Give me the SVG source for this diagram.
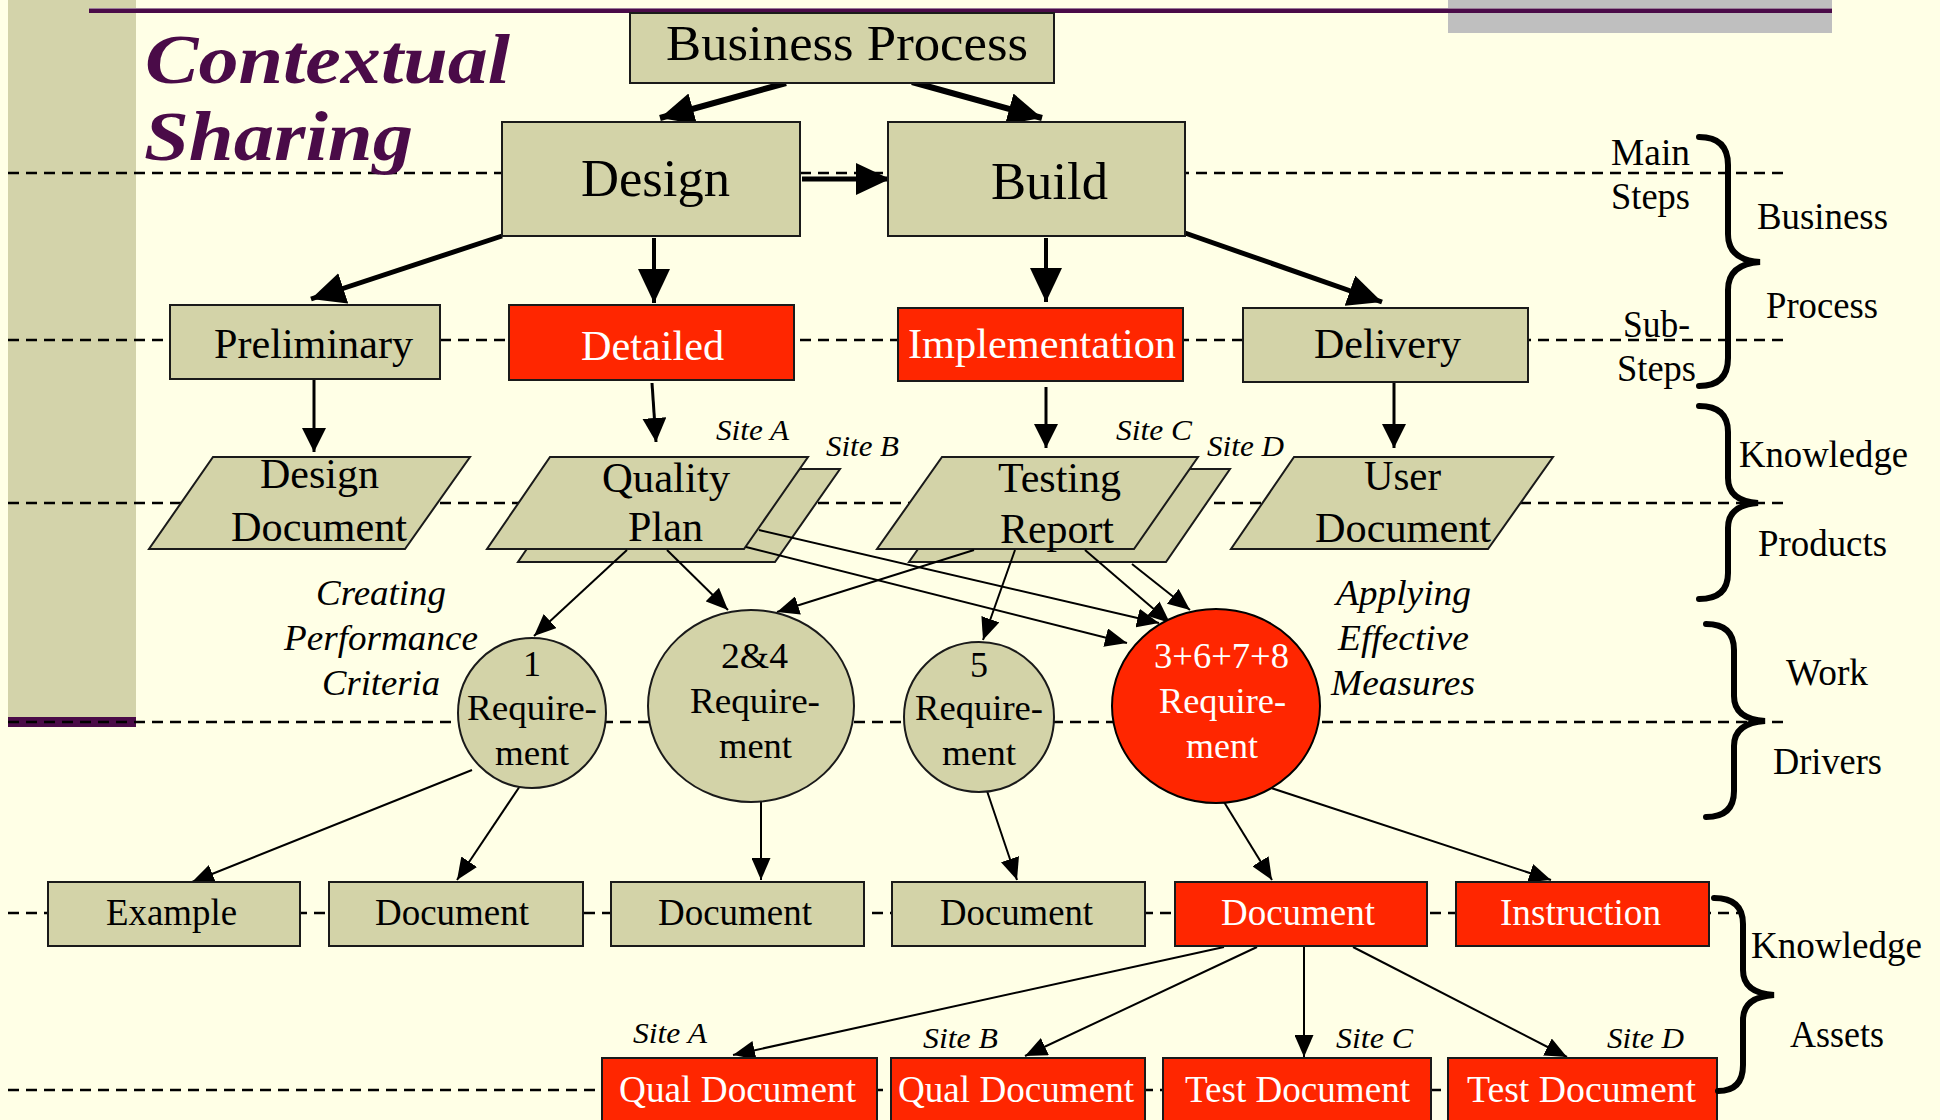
<svg xmlns="http://www.w3.org/2000/svg" width="1940" height="1120" viewBox="0 0 1940 1120">
<defs>
<style>
.t{font-family:"Liberation Serif","Times New Roman",serif;fill:#000}
.w{fill:#fff}
.it{font-style:italic}
.box{fill:#d3d3a8;stroke:#1a1a1a;stroke-width:2}
.red{fill:#ff2600;stroke:#1a1a1a;stroke-width:2}
.guide{stroke:#000;stroke-width:2.5;stroke-dasharray:11 7;fill:none}
.brace{fill:none;stroke:#000;stroke-width:6;stroke-linecap:round}
.thick{stroke:#000;fill:none;marker-end:url(#big)}
.med{stroke:#000;stroke-width:3;fill:none;marker-end:url(#med)}
.thin{stroke:#000;stroke-width:2;fill:none;marker-end:url(#small)}
</style>
<marker id="big" markerUnits="userSpaceOnUse" markerWidth="34" markerHeight="32" viewBox="0 0 34 32" refX="34" refY="16" orient="auto"><path d="M0,0 L34,16 L0,32 z" fill="#000"/></marker>
<marker id="med" markerUnits="userSpaceOnUse" markerWidth="24" markerHeight="24" viewBox="0 0 24 24" refX="24" refY="12" orient="auto"><path d="M0,0 L24,12 L0,24 z" fill="#000"/></marker>
<marker id="small" markerUnits="userSpaceOnUse" markerWidth="22" markerHeight="19" viewBox="0 0 22 19" refX="22" refY="9.5" orient="auto"><path d="M0,0 L22,9.5 L0,19 z" fill="#000"/></marker>
</defs>
<rect x="0" y="0" width="1940" height="1120" fill="#ffffe6"/>
<g id="decor">
<rect x="8" y="0" width="128" height="718" fill="#d3d3aa"/>
<rect x="8" y="717" width="128" height="10" fill="#4a0b48"/>
<rect x="1448" y="0" width="384" height="33" fill="#bfbfbf"/>
<rect x="89" y="9" width="1743" height="4" fill="#4a0b48"/>
<rect x="89" y="8" width="1743" height="1" fill="#9a7a98"/>
</g>
<g id="guides">
<line class="guide" x1="8" y1="173" x2="1788" y2="173"/>
<line class="guide" x1="8" y1="340" x2="1788" y2="340"/>
<line class="guide" x1="8" y1="503" x2="1788" y2="503"/>
<line class="guide" x1="8" y1="722" x2="1788" y2="722"/>
<line class="guide" x1="8" y1="913" x2="1740" y2="913"/>
<line class="guide" x1="8" y1="1090" x2="1716" y2="1090"/>
</g>
<g id="title" class="t" style="font-weight:bold;font-style:italic;fill:#4a0b48">
<text x="145" y="83" font-size="70" textLength="365" lengthAdjust="spacingAndGlyphs" style="fill:#4a0b48">Contextual</text>
<text x="144" y="160" font-size="70" textLength="269" lengthAdjust="spacingAndGlyphs" style="fill:#4a0b48">Sharing</text>
</g>
<g id="connectors">
<path class="thick" stroke-width="6" d="M786,83 L660,118"/>
<path class="thick" stroke-width="6" d="M912,82 L1042,118"/>
<path class="thick" stroke-width="5" d="M802,179 L890,179"/>
<path class="thick" stroke-width="5" d="M502,236 L311,299"/>
<path class="thick" stroke-width="4" d="M654,238 L654,303"/>
<path class="thick" stroke-width="4" d="M1046,238 L1046,302"/>
<path class="thick" stroke-width="5" d="M1185,233 L1382,302"/>
<path class="med" d="M314,380 L314,452"/>
<path class="med" d="M652,383 L656,442"/>
<path class="med" d="M1046,387 L1046,448"/>
<path class="med" d="M1394,382 L1394,448"/>
</g>
<g id="node-bp"><rect class="box" x="630" y="13" width="424" height="70"/><text class="t" x="666" y="60" font-size="50" textLength="362" lengthAdjust="spacingAndGlyphs">Business Process</text></g>
<g id="node-design"><rect class="box" x="502" y="122" width="298" height="114"/><text class="t" x="581" y="196" font-size="52" textLength="149" lengthAdjust="spacingAndGlyphs">Design</text></g>
<g id="node-build"><rect class="box" x="888" y="122" width="297" height="114"/><text class="t" x="991" y="199" font-size="52" textLength="117" lengthAdjust="spacingAndGlyphs">Build</text></g>
<g id="node-preliminary"><rect class="box" x="170" y="305" width="270" height="74"/><text class="t" x="214" y="358" font-size="42" textLength="199" lengthAdjust="spacingAndGlyphs">Preliminary</text></g>
<g id="node-detailed"><rect class="red" x="509" y="305" width="285" height="75"/><text class="t w" x="581" y="360" font-size="42" textLength="143" lengthAdjust="spacingAndGlyphs">Detailed</text></g>
<g id="node-implementation"><rect class="red" x="898" y="308" width="285" height="73"/><text class="t w" x="908" y="358" font-size="42" textLength="268" lengthAdjust="spacingAndGlyphs">Implementation</text></g>
<g id="node-delivery"><rect class="box" x="1243" y="308" width="285" height="74"/><text class="t" x="1314" y="358" font-size="42" textLength="147" lengthAdjust="spacingAndGlyphs">Delivery</text></g>
<g id="node-designdoc"><path class="box" d="M213,457 L470,457 L405,549 L149,549 Z"/><text class="t" x="260" y="488" font-size="42" textLength="119" lengthAdjust="spacingAndGlyphs">Design</text><text class="t" x="231" y="541" font-size="42" textLength="176" lengthAdjust="spacingAndGlyphs">Document</text></g>
<g id="node-qualityplan"><path class="box" d="M581,469 L840,469 L775,562 L518,562 Z"/><path class="box" d="M550,457 L808,457 L744,549 L487,549 Z"/><text class="t" x="602" y="492" font-size="42" textLength="128" lengthAdjust="spacingAndGlyphs">Quality</text><text class="t" x="628" y="541" font-size="42" textLength="75" lengthAdjust="spacingAndGlyphs">Plan</text></g>
<g id="node-testingreport"><path class="box" d="M974,469 L1230,469 L1166,562 L909,562 Z"/><path class="box" d="M942,457 L1198,457 L1134,549 L877,549 Z"/><text class="t" x="998" y="492" font-size="42" textLength="123" lengthAdjust="spacingAndGlyphs">Testing</text><text class="t" x="1000" y="543" font-size="42" textLength="114" lengthAdjust="spacingAndGlyphs">Report</text></g>
<g id="node-userdoc"><path class="box" d="M1294,457 L1553,457 L1488,549 L1231,549 Z"/><text class="t" x="1364" y="490" font-size="42" textLength="77" lengthAdjust="spacingAndGlyphs">User</text><text class="t" x="1315" y="542" font-size="42" textLength="176" lengthAdjust="spacingAndGlyphs">Document</text></g>
<g id="sites-top" class="t it" font-size="30">
<text x="716" y="440" textLength="73" lengthAdjust="spacingAndGlyphs">Site A</text>
<text x="826" y="456" textLength="73" lengthAdjust="spacingAndGlyphs">Site B</text>
<text x="1116" y="440" textLength="76" lengthAdjust="spacingAndGlyphs">Site C</text>
<text x="1207" y="456" textLength="77" lengthAdjust="spacingAndGlyphs">Site D</text>
</g>
<g id="thin-connectors">
<path class="thin" d="M627,550 L534,636"/>
<path class="thin" d="M667,550 L728,610"/>
<path class="thin" d="M759,530 L1159,623"/>
<path class="thin" d="M746,547 L1127,643"/>
<path class="thin" d="M974,550 L777,612"/>
<path class="thin" d="M1015,550 L983,640"/>
<path class="thin" d="M1085,550 L1170,623"/>
<path class="thin" d="M1132,564 L1190,610"/>
<path class="thin" d="M472,770 L192,882"/>
<path class="thin" d="M520,786 L457,880"/>
<path class="thin" d="M761,802 L761,880"/>
<path class="thin" d="M985,785 L1017,880"/>
<path class="thin" d="M1224,802 L1272,880"/>
<path class="thin" d="M1256,783 L1551,880"/>
<path class="thin" d="M1224,947 L733,1055"/>
<path class="thin" d="M1257,947 L1025,1056"/>
<path class="thin" d="M1304,947 L1304,1057"/>
<path class="thin" d="M1353,947 L1567,1057"/>
</g>
<g id="node-req1"><ellipse class="box" cx="532" cy="713" rx="74" ry="75"/><text class="t" x="532" y="676" font-size="36" text-anchor="middle">1</text><text class="t" x="467" y="720" font-size="36" textLength="130" lengthAdjust="spacingAndGlyphs">Require-</text><text class="t" x="495" y="765" font-size="36" textLength="74" lengthAdjust="spacingAndGlyphs">ment</text></g>
<g id="node-req24"><ellipse class="box" cx="751" cy="706" rx="103" ry="96"/><text class="t" x="721" y="668" font-size="36" textLength="67" lengthAdjust="spacingAndGlyphs">2&amp;4</text><text class="t" x="690" y="713" font-size="36" textLength="130" lengthAdjust="spacingAndGlyphs">Require-</text><text class="t" x="719" y="758" font-size="36" textLength="73" lengthAdjust="spacingAndGlyphs">ment</text></g>
<g id="node-req5"><ellipse class="box" cx="979" cy="717" rx="75" ry="75"/><text class="t" x="979" y="677" font-size="36" text-anchor="middle">5</text><text class="t" x="915" y="720" font-size="36" textLength="128" lengthAdjust="spacingAndGlyphs">Require-</text><text class="t" x="942" y="765" font-size="36" textLength="74" lengthAdjust="spacingAndGlyphs">ment</text></g>
<g id="node-req3678"><ellipse cx="1216" cy="706" rx="104" ry="97" fill="#ff2600" stroke="#000" stroke-width="2"/><text class="t w" x="1154" y="668" font-size="36" textLength="135" lengthAdjust="spacingAndGlyphs">3+6+7+8</text><text class="t w" x="1159" y="713" font-size="36" textLength="127" lengthAdjust="spacingAndGlyphs">Require-</text><text class="t w" x="1186" y="758" font-size="36" textLength="72" lengthAdjust="spacingAndGlyphs">ment</text></g>
<g id="italic-labels" class="t it" font-size="36">
<text x="316" y="605" textLength="130" lengthAdjust="spacingAndGlyphs">Creating</text>
<text x="284" y="650" textLength="194" lengthAdjust="spacingAndGlyphs">Performance</text>
<text x="322" y="695" textLength="118" lengthAdjust="spacingAndGlyphs">Criteria</text>
<text x="1336" y="605" textLength="135" lengthAdjust="spacingAndGlyphs">Applying</text>
<text x="1338" y="650" textLength="131" lengthAdjust="spacingAndGlyphs">Effective</text>
<text x="1331" y="695" textLength="144" lengthAdjust="spacingAndGlyphs">Measures</text>
</g>
<g id="node-example"><rect class="box" x="48" y="882" width="252" height="64"/><text class="t" x="106" y="925" font-size="37" textLength="131" lengthAdjust="spacingAndGlyphs">Example</text></g>
<g id="node-doc1"><rect class="box" x="329" y="882" width="254" height="64"/><text class="t" x="375" y="925" font-size="37" textLength="154" lengthAdjust="spacingAndGlyphs">Document</text></g>
<g id="node-doc2"><rect class="box" x="611" y="882" width="253" height="64"/><text class="t" x="658" y="925" font-size="37" textLength="154" lengthAdjust="spacingAndGlyphs">Document</text></g>
<g id="node-doc3"><rect class="box" x="892" y="882" width="253" height="64"/><text class="t" x="940" y="925" font-size="37" textLength="153" lengthAdjust="spacingAndGlyphs">Document</text></g>
<g id="node-docred"><rect class="red" x="1175" y="882" width="252" height="64"/><text class="t w" x="1221" y="925" font-size="37" textLength="154" lengthAdjust="spacingAndGlyphs">Document</text></g>
<g id="node-instruction"><rect class="red" x="1456" y="882" width="253" height="64"/><text class="t w" x="1500" y="925" font-size="37" textLength="161" lengthAdjust="spacingAndGlyphs">Instruction</text></g>
<g id="node-qualA"><rect class="red" x="602" y="1058" width="275" height="70"/><text class="t w" x="619" y="1102" font-size="37" textLength="237" lengthAdjust="spacingAndGlyphs">Qual Document</text></g>
<g id="node-qualB"><rect class="red" x="891" y="1058" width="254" height="70"/><text class="t w" x="898" y="1102" font-size="37" textLength="236" lengthAdjust="spacingAndGlyphs">Qual Document</text></g>
<g id="node-testC"><rect class="red" x="1163" y="1058" width="268" height="70"/><text class="t w" x="1185" y="1102" font-size="37" textLength="225" lengthAdjust="spacingAndGlyphs">Test Document</text></g>
<g id="node-testD"><rect class="red" x="1448" y="1058" width="269" height="70"/><text class="t w" x="1467" y="1102" font-size="37" textLength="229" lengthAdjust="spacingAndGlyphs">Test Document</text></g>
<g id="sites-bottom" class="t it" font-size="30">
<text x="633" y="1043" textLength="74" lengthAdjust="spacingAndGlyphs">Site A</text>
<text x="923" y="1048" textLength="75" lengthAdjust="spacingAndGlyphs">Site B</text>
<text x="1336" y="1048" textLength="77" lengthAdjust="spacingAndGlyphs">Site C</text>
<text x="1607" y="1048" textLength="77" lengthAdjust="spacingAndGlyphs">Site D</text>
</g>
<g id="braces">
<path class="brace" d="M1699,137 Q1728,137 1728,165 L1728,234 Q1728,260 1760,262 Q1728,264 1728,290 L1728,358 Q1728,386 1699,386"/>
<path class="brace" d="M1699,406 Q1728,406 1728,432 L1728,478 Q1728,501 1758,503 Q1728,505 1728,528 L1728,573 Q1728,599 1699,599"/>
<path class="brace" d="M1706,624 Q1734,624 1734,650 L1734,696 Q1734,719 1765,721 Q1734,723 1734,746 L1734,791 Q1734,817 1706,817"/>
<path class="brace" d="M1714,898 Q1743,898 1743,924 L1743,970 Q1743,993 1774,995 Q1743,997 1743,1020 L1743,1065 Q1743,1091 1718,1091"/>
</g>
<g id="brace-labels" class="t" font-size="37">
<text x="1611" y="165" textLength="79" lengthAdjust="spacingAndGlyphs">Main</text>
<text x="1611" y="209" textLength="79" lengthAdjust="spacingAndGlyphs">Steps</text>
<text x="1757" y="229" textLength="131" lengthAdjust="spacingAndGlyphs">Business</text>
<text x="1766" y="318" textLength="112" lengthAdjust="spacingAndGlyphs">Process</text>
<text x="1623" y="337" textLength="67" lengthAdjust="spacingAndGlyphs">Sub-</text>
<text x="1617" y="381" textLength="79" lengthAdjust="spacingAndGlyphs">Steps</text>
<text x="1739" y="467" textLength="169" lengthAdjust="spacingAndGlyphs">Knowledge</text>
<text x="1758" y="556" textLength="129" lengthAdjust="spacingAndGlyphs">Products</text>
<text x="1786" y="685" textLength="82" lengthAdjust="spacingAndGlyphs">Work</text>
<text x="1773" y="774" textLength="109" lengthAdjust="spacingAndGlyphs">Drivers</text>
<text x="1751" y="958" textLength="171" lengthAdjust="spacingAndGlyphs">Knowledge</text>
<text x="1790" y="1047" textLength="94" lengthAdjust="spacingAndGlyphs">Assets</text>
</g>
</svg>
